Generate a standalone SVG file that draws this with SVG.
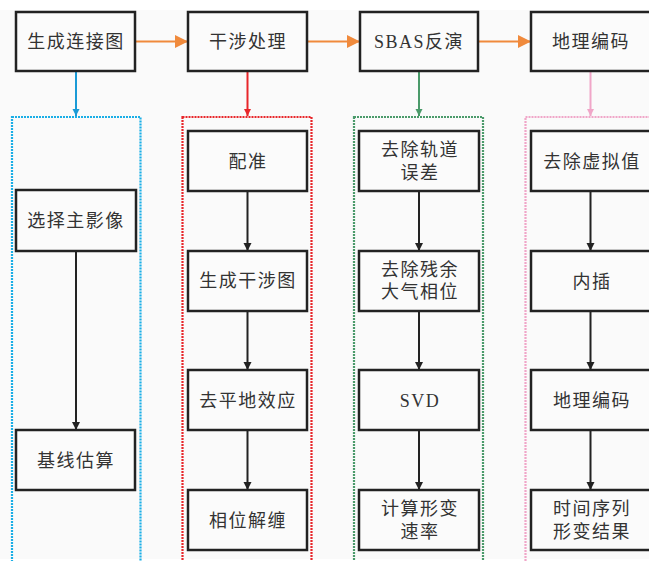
<svg xmlns="http://www.w3.org/2000/svg" width="649" height="561" viewBox="0 0 649 561">
<defs>
<style>
.bx{fill:#fbfbfb;stroke:#222;stroke-width:2.5}
.t{font-family:"Liberation Serif","Noto Sans CJK SC",serif;font-size:18px;fill:#333;text-anchor:middle;dominant-baseline:central;letter-spacing:1.5px}
.k{stroke:#222;stroke-width:2;fill:none}
.o{stroke:#f08a3c;stroke-width:2;fill:none}
.ct{fill:none;stroke-width:2.2;stroke-dasharray:2 1}
</style>
<marker id="ao" markerWidth="13" markerHeight="13" refX="13" refY="6.5" orient="auto" markerUnits="userSpaceOnUse"><path d="M0,0L13,6.5L0,13Z" fill="#f08a3c"/></marker>
<marker id="ak" markerWidth="8" markerHeight="9" refX="8" refY="4" orient="auto" markerUnits="userSpaceOnUse"><path d="M0,0L8,4L0,8Z" fill="#222"/></marker>
<marker id="ab" markerWidth="8" markerHeight="8" refX="7" refY="3.5" orient="auto" markerUnits="userSpaceOnUse"><path d="M0,0L7,3.5L0,7Z" fill="#1a9ad6"/></marker>
<marker id="ar" markerWidth="8" markerHeight="8" refX="7" refY="3.5" orient="auto" markerUnits="userSpaceOnUse"><path d="M0,0L7,3.5L0,7Z" fill="#e8262a"/></marker>
<marker id="ag" markerWidth="8" markerHeight="8" refX="7" refY="3.5" orient="auto" markerUnits="userSpaceOnUse"><path d="M0,0L7,3.5L0,7Z" fill="#4a9a6a"/></marker>
<marker id="ap" markerWidth="8" markerHeight="8" refX="7" refY="3.5" orient="auto" markerUnits="userSpaceOnUse"><path d="M0,0L7,3.5L0,7Z" fill="#f0a6c8"/></marker>
</defs>
<rect x="0" y="0" width="649" height="561" fill="#ffffff"/>
<rect x="0" y="10" width="649" height="549" fill="#fafafa"/>

<g id="containers">
<rect class="ct" x="12" y="117" width="128.5" height="460" stroke="#1aaee6"/>
<rect class="ct" x="182.5" y="117" width="129" height="460" stroke="#e8262a"/>
<rect class="ct" x="354" y="117" width="129" height="460" stroke="#4a9a6a"/>
<rect class="ct" x="525.5" y="117" width="140" height="460" stroke="#f0a6c8"/>
</g>

<g id="connectors">
<line class="o" x1="135" y1="41.5" x2="188" y2="41.5" marker-end="url(#ao)"/>
<line class="o" x1="307" y1="41.5" x2="360" y2="41.5" marker-end="url(#ao)"/>
<line class="o" x1="478" y1="41.5" x2="531" y2="41.5" marker-end="url(#ao)"/>
<line x1="76" y1="71" x2="76" y2="116" stroke="#1a9ad6" stroke-width="2" marker-end="url(#ab)"/>
<line x1="247.5" y1="71" x2="247.5" y2="116" stroke="#e8262a" stroke-width="2" marker-end="url(#ar)"/>
<line x1="419" y1="71" x2="419" y2="116" stroke="#4a9a6a" stroke-width="2" marker-end="url(#ag)"/>
<line x1="590.5" y1="71" x2="590.5" y2="116" stroke="#f0a6c8" stroke-width="2" marker-end="url(#ap)"/>
<line class="k" x1="76" y1="251" x2="76" y2="430" marker-end="url(#ak)"/>
<line class="k" x1="247.5" y1="191" x2="247.5" y2="251" marker-end="url(#ak)"/>
<line class="k" x1="247.5" y1="311" x2="247.5" y2="370" marker-end="url(#ak)"/>
<line class="k" x1="247.5" y1="430" x2="247.5" y2="490" marker-end="url(#ak)"/>
<line class="k" x1="419" y1="191" x2="419" y2="251" marker-end="url(#ak)"/>
<line class="k" x1="419" y1="311" x2="419" y2="370" marker-end="url(#ak)"/>
<line class="k" x1="419" y1="430" x2="419" y2="490" marker-end="url(#ak)"/>
<line class="k" x1="590.5" y1="191" x2="590.5" y2="251" marker-end="url(#ak)"/>
<line class="k" x1="590.5" y1="311" x2="590.5" y2="370" marker-end="url(#ak)"/>
<line class="k" x1="590.5" y1="430" x2="590.5" y2="490" marker-end="url(#ak)"/>
</g>

<g id="n1"><rect class="bx" x="16" y="12" width="119" height="59"/><text class="t" x="76" y="42">生成连接图</text></g>
<g id="n2"><rect class="bx" x="188" y="12" width="119" height="59"/><text class="t" x="248" y="42">干涉处理</text></g>
<g id="n3"><rect class="bx" x="360" y="12" width="118" height="59"/><text class="t" x="419" y="42">SBAS反演</text></g>
<g id="n4"><rect class="bx" x="531" y="12" width="120" height="59"/><text class="t" x="591" y="42">地理编码</text></g>

<g id="c1a"><rect class="bx" x="16" y="190" width="120" height="61"/><text class="t" x="76" y="221">选择主影像</text></g>
<g id="c1b"><rect class="bx" x="16" y="430" width="119" height="60"/><text class="t" x="76" y="461">基线估算</text></g>

<g id="c2a"><rect class="bx" x="188" y="131" width="119" height="60"/><text class="t" x="248" y="162">配准</text></g>
<g id="c2b"><rect class="bx" x="188" y="251" width="119" height="60"/><text class="t" x="248" y="281">生成干涉图</text></g>
<g id="c2c"><rect class="bx" x="188" y="370" width="119" height="60"/><text class="t" x="248" y="401">去平地效应</text></g>
<g id="c2d"><rect class="bx" x="188" y="490" width="119" height="60"/><text class="t" x="248" y="521">相位解缠</text></g>

<g id="c3a"><rect class="bx" x="359" y="131" width="120" height="60"/><text class="t" x="420" y="150">去除轨道</text><text class="t" x="420" y="173">误差</text></g>
<g id="c3b"><rect class="bx" x="359" y="251" width="120" height="60"/><text class="t" x="420" y="270">去除残余</text><text class="t" x="420" y="292">大气相位</text></g>
<g id="c3c"><rect class="bx" x="359" y="370" width="120" height="60"/><text class="t" x="420" y="401">SVD</text></g>
<g id="c3d"><rect class="bx" x="359" y="490" width="120" height="60"/><text class="t" x="420" y="509">计算形变</text><text class="t" x="420" y="532">速率</text></g>

<g id="c4a"><rect class="bx" x="531" y="131" width="120" height="60"/><text class="t" x="592" y="162">去除虚拟值</text></g>
<g id="c4b"><rect class="bx" x="531" y="251" width="120" height="60"/><text class="t" x="592" y="282">内插</text></g>
<g id="c4c"><rect class="bx" x="531" y="370" width="120" height="60"/><text class="t" x="592" y="401">地理编码</text></g>
<g id="c4d"><rect class="bx" x="531" y="490" width="120" height="60"/><text class="t" x="592" y="509">时间序列</text><text class="t" x="592" y="532">形变结果</text></g>
</svg>
